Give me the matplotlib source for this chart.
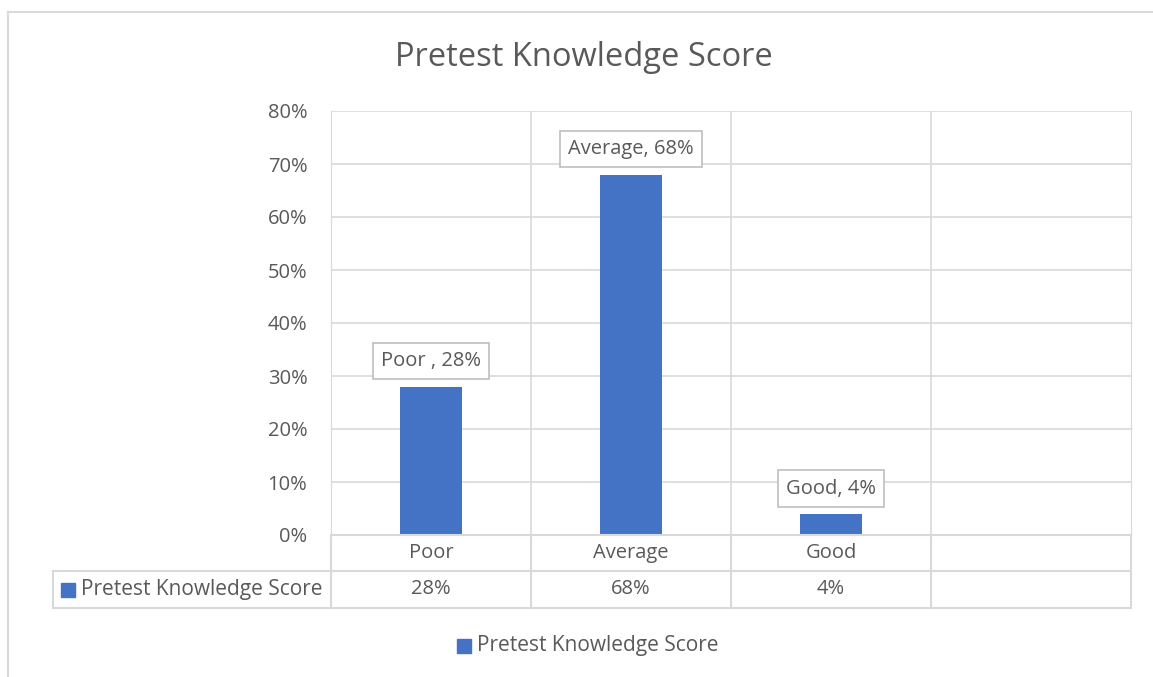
import matplotlib
matplotlib.use("Agg")
import matplotlib.pyplot as plt
from matplotlib.lines import Line2D
from matplotlib.patches import Rectangle
from matplotlib.transforms import blended_transform_factory

categories = ["Poor", "Average", "Good", ""]
values = [0.28, 0.68, 0.04]
label_texts = ["Poor , 28%", "Average, 68%", "Good, 4%"]
table_values = ["28%", "68%", "4%", ""]
series_name = "Pretest Knowledge Score"
yticks = [0, 0.1, 0.2, 0.3, 0.4, 0.5, 0.6, 0.7, 0.8]

plt.rcParams['font.family'] = ['Open Sans', 'DejaVu Sans']
W, H = 1153, 677
fig = plt.figure(figsize=(W / 100, H / 100), dpi=100)
TXT = "#595959"
GRID = "#d9d9d9"
BLUE = "#4472c4"
FS = 14.5
FS2 = 15

def fx(px):
    return px / W

def fy(py):
    return 1 - py / H

# chart border
fig.add_artist(Line2D([fx(8), fx(8)], [fy(12), fy(677)], color=GRID, lw=1.5))
fig.add_artist(Line2D([fx(8), fx(1153)], [fy(12), fy(12)], color=GRID, lw=1.5))

L, R, T, B = 331, 1131, 111, 535
ax = fig.add_axes([fx(L), fy(B), fx(R - L), (B - T) / H])
x = list(range(len(values)))
ax.bar(x, values, width=0.31, color=BLUE, zorder=3)
ax.set_xlim(-0.5, len(categories) - 0.5)
ax.set_ylim(0, 0.8)
ax.set_yticks(yticks)
ax.set_yticklabels([f"{int(round(v * 100))}%" for v in yticks], color=TXT, fontsize=FS)
ax.tick_params(axis='y', length=0, pad=17)
ax.set_xticks([])
ax.grid(axis='y', color=GRID, lw=1.2, zorder=0)
for s in ax.spines.values():
    s.set_visible(False)
ax.spines['right'].set_visible(True)
ax.spines['right'].set_color(GRID)
ax.spines['left'].set_visible(True)
ax.spines['left'].set_color(GRID)
for b in range(1, len(categories)):
    ax.axvline(b - 0.5, color=GRID, lw=1.2, zorder=0)

# data labels
for xi, v, t in zip(x, values, label_texts):
    ax.annotate(t, (xi, v), xytext=(0, 11), textcoords='offset points', ha='center', va='bottom',
                fontsize=FS, color=TXT,
                bbox=dict(boxstyle='square,pad=0.4', fc='white', ec='#bfbfbf', lw=1.2), zorder=5)

# title
fig.text(fx(584), fy(57), series_name, ha='center', va='center', fontsize=23.5, color=TXT)

# data table
tr = blended_transform_factory(ax.transData, fig.transFigure)
r1, r2, r3 = 535, 571, 608
tl = 53
for yy, x0 in [(r2, tl), (r3, tl)]:
    fig.add_artist(Line2D([fx(x0), fx(R)], [fy(yy), fy(yy)], color=GRID, lw=1.5))
fig.add_artist(Line2D([fx(L), fx(R)], [fy(r1), fy(r1)], color=GRID, lw=1.5))
fig.add_artist(Line2D([fx(tl), fx(tl)], [fy(r2), fy(r3)], color=GRID, lw=1.5))
fig.add_artist(Line2D([fx(L), fx(L)], [fy(r1), fy(r3)], color=GRID, lw=1.5))
for b in range(len(categories) + 1):
    fig.add_artist(Line2D([b - 0.5, b - 0.5], [fy(r1), fy(r3)], transform=tr, color=GRID, lw=1.5))
for i, (c, tv) in enumerate(zip(categories, table_values)):
    fig.text(i, fy((r1 + r2) / 2), c, transform=tr, ha='center', va='center', fontsize=FS, color=TXT)
    fig.text(i, fy((r2 + r3) / 2), tv, transform=tr, ha='center', va='center', fontsize=FS, color=TXT)
fig.add_artist(Rectangle((fx(61), fy(597)), fx(14), 14 / H, color=BLUE, transform=fig.transFigure))
fig.text(fx(81), fy(590), series_name, ha='left', va='center', fontsize=FS2, color=TXT)

# legend
fig.add_artist(Rectangle((fx(457), fy(653)), fx(14), 14 / H, color=BLUE, transform=fig.transFigure))
fig.text(fx(477), fy(646), series_name, ha='left', va='center', fontsize=FS2, color=TXT)

fig.savefig("out.png", dpi=100)
